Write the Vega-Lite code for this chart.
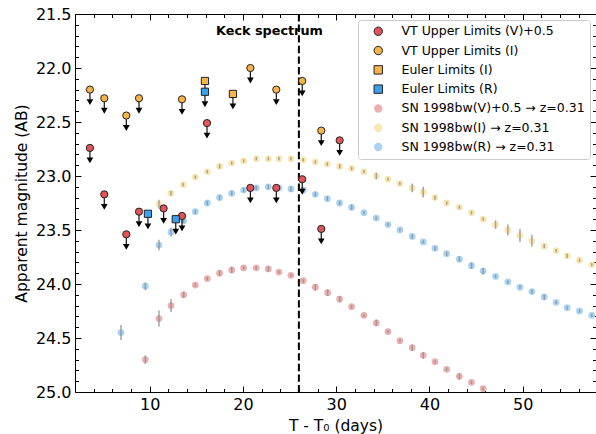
{
  "$schema": "https://vega.github.io/schema/vega-lite/v6.json",
  "width": 521,
  "height": 378,
  "autosize": {"type": "none"},
  "padding": {"left": 75, "top": 14, "right": 0, "bottom": 42},
  "background": "white",
  "config": {
    "view": {"stroke": null},
    "font": "DejaVu Sans",
    "axis": {
      "labelFont": "DejaVu Sans", "titleFont": "DejaVu Sans",
      "labelColor": "black", "titleColor": "black",
      "tickColor": "black", "domainColor": "black",
      "domainWidth": 1, "tickWidth": 1, "grid": false,
      "labelFontSize": 16, "titleFontSize": 15.5, "titleFontWeight": "normal",
      "labelFlush": false
    },
    "legend": {
      "orient": "top-right", "offset": 6, "padding": 5,
      "strokeColor": "#cccccc", "fillColor": "white", "cornerRadius": 3,
      "labelFont": "DejaVu Sans", "labelFontSize": 12.5, "labelColor": "black",
      "symbolSize": 70, "symbolStrokeWidth": 1, "rowPadding": 6.3,
      "symbolOffset": 9, "labelOffset": 17, "labelLimit": 400
    }
  },
  "datasets": {
    "limits": [
      {"series": "VT Upper Limits (V)+0.5", "t": 3.6, "mag": 22.74},
      {"series": "VT Upper Limits (V)+0.5", "t": 5.14, "mag": 23.17},
      {"series": "VT Upper Limits (V)+0.5", "t": 7.5, "mag": 23.54},
      {"series": "VT Upper Limits (V)+0.5", "t": 8.86, "mag": 23.33},
      {"series": "VT Upper Limits (V)+0.5", "t": 11.5, "mag": 23.3},
      {"series": "VT Upper Limits (V)+0.5", "t": 13.47, "mag": 23.37},
      {"series": "VT Upper Limits (V)+0.5", "t": 16.15, "mag": 22.51},
      {"series": "VT Upper Limits (V)+0.5", "t": 20.8, "mag": 23.11},
      {"series": "VT Upper Limits (V)+0.5", "t": 23.58, "mag": 23.11},
      {"series": "VT Upper Limits (V)+0.5", "t": 26.36, "mag": 23.03},
      {"series": "VT Upper Limits (V)+0.5", "t": 28.4, "mag": 23.49},
      {"series": "VT Upper Limits (V)+0.5", "t": 30.37, "mag": 22.67},
      {"series": "VT Upper Limits (I)", "t": 3.6, "mag": 22.2},
      {"series": "VT Upper Limits (I)", "t": 5.14, "mag": 22.28},
      {"series": "VT Upper Limits (I)", "t": 7.5, "mag": 22.44},
      {"series": "VT Upper Limits (I)", "t": 8.86, "mag": 22.28},
      {"series": "VT Upper Limits (I)", "t": 13.47, "mag": 22.29},
      {"series": "VT Upper Limits (I)", "t": 20.8, "mag": 22.0},
      {"series": "VT Upper Limits (I)", "t": 23.58, "mag": 22.2},
      {"series": "VT Upper Limits (I)", "t": 26.36, "mag": 22.12},
      {"series": "VT Upper Limits (I)", "t": 28.4, "mag": 22.58},
      {"series": "Euler Limits (I)", "t": 15.93, "mag": 22.12},
      {"series": "Euler Limits (I)", "t": 18.93, "mag": 22.24},
      {"series": "Euler Limits (R)", "t": 9.82, "mag": 23.35},
      {"series": "Euler Limits (R)", "t": 12.8, "mag": 23.4},
      {"series": "Euler Limits (R)", "t": 15.93, "mag": 22.22}
    ],
    "sn": [
      {"series": "SN 1998bw(R) → z=0.31", "t": 6.93, "mag": 24.45, "err": 0.07},
      {"series": "SN 1998bw(R) → z=0.31", "t": 9.54, "mag": 24.02, "err": 0.035},
      {"series": "SN 1998bw(R) → z=0.31", "t": 11.0, "mag": 23.64, "err": 0.05},
      {"series": "SN 1998bw(R) → z=0.31", "t": 12.29, "mag": 23.52, "err": 0.04},
      {"series": "SN 1998bw(R) → z=0.31", "t": 13.65, "mag": 23.415, "err": 0.02},
      {"series": "SN 1998bw(R) → z=0.31", "t": 14.9, "mag": 23.33, "err": 0.02},
      {"series": "SN 1998bw(R) → z=0.31", "t": 16.18, "mag": 23.25, "err": 0.02},
      {"series": "SN 1998bw(R) → z=0.31", "t": 17.5, "mag": 23.2, "err": 0.025},
      {"series": "SN 1998bw(R) → z=0.31", "t": 18.8, "mag": 23.16, "err": 0.02},
      {"series": "SN 1998bw(R) → z=0.31", "t": 20.08, "mag": 23.13, "err": 0.02},
      {"series": "SN 1998bw(R) → z=0.31", "t": 21.43, "mag": 23.11, "err": 0.02},
      {"series": "SN 1998bw(R) → z=0.31", "t": 22.72, "mag": 23.1, "err": 0.02},
      {"series": "SN 1998bw(R) → z=0.31", "t": 23.86, "mag": 23.11, "err": 0.02},
      {"series": "SN 1998bw(R) → z=0.31", "t": 25.15, "mag": 23.12, "err": 0.025},
      {"series": "SN 1998bw(R) → z=0.31", "t": 26.47, "mag": 23.13, "err": 0.02},
      {"series": "SN 1998bw(R) → z=0.31", "t": 27.76, "mag": 23.17, "err": 0.02},
      {"series": "SN 1998bw(R) → z=0.31", "t": 29.04, "mag": 23.21, "err": 0.02},
      {"series": "SN 1998bw(R) → z=0.31", "t": 30.37, "mag": 23.25, "err": 0.02},
      {"series": "SN 1998bw(R) → z=0.31", "t": 31.65, "mag": 23.29, "err": 0.025},
      {"series": "SN 1998bw(R) → z=0.31", "t": 32.97, "mag": 23.34, "err": 0.015},
      {"series": "SN 1998bw(R) → z=0.31", "t": 34.3, "mag": 23.39, "err": 0.015},
      {"series": "SN 1998bw(R) → z=0.31", "t": 35.55, "mag": 23.45, "err": 0.015},
      {"series": "SN 1998bw(R) → z=0.31", "t": 36.83, "mag": 23.5, "err": 0.015},
      {"series": "SN 1998bw(R) → z=0.31", "t": 38.15, "mag": 23.56, "err": 0.02},
      {"series": "SN 1998bw(R) → z=0.31", "t": 39.33, "mag": 23.61, "err": 0.015},
      {"series": "SN 1998bw(R) → z=0.31", "t": 40.59, "mag": 23.67, "err": 0.02},
      {"series": "SN 1998bw(R) → z=0.31", "t": 41.84, "mag": 23.72, "err": 0.02},
      {"series": "SN 1998bw(R) → z=0.31", "t": 43.2, "mag": 23.77, "err": 0.025},
      {"series": "SN 1998bw(R) → z=0.31", "t": 44.5, "mag": 23.83, "err": 0.03},
      {"series": "SN 1998bw(R) → z=0.31", "t": 45.75, "mag": 23.88, "err": 0.03},
      {"series": "SN 1998bw(R) → z=0.31", "t": 47.08, "mag": 23.93, "err": 0.015},
      {"series": "SN 1998bw(R) → z=0.31", "t": 48.4, "mag": 23.98, "err": 0.015},
      {"series": "SN 1998bw(R) → z=0.31", "t": 49.7, "mag": 24.03, "err": 0.015},
      {"series": "SN 1998bw(R) → z=0.31", "t": 50.98, "mag": 24.07, "err": 0.02},
      {"series": "SN 1998bw(R) → z=0.31", "t": 52.3, "mag": 24.12, "err": 0.025},
      {"series": "SN 1998bw(R) → z=0.31", "t": 53.58, "mag": 24.17, "err": 0.015},
      {"series": "SN 1998bw(R) → z=0.31", "t": 54.76, "mag": 24.22, "err": 0.015},
      {"series": "SN 1998bw(R) → z=0.31", "t": 56.08, "mag": 24.25, "err": 0.015},
      {"series": "SN 1998bw(R) → z=0.31", "t": 57.4, "mag": 24.29, "err": 0.015},
      {"series": "SN 1998bw(V)+0.5 → z=0.31", "t": 9.54, "mag": 24.7, "err": 0.04},
      {"series": "SN 1998bw(V)+0.5 → z=0.31", "t": 11.0, "mag": 24.32, "err": 0.075},
      {"series": "SN 1998bw(V)+0.5 → z=0.31", "t": 12.29, "mag": 24.2, "err": 0.06},
      {"series": "SN 1998bw(V)+0.5 → z=0.31", "t": 13.65, "mag": 24.1, "err": 0.03},
      {"series": "SN 1998bw(V)+0.5 → z=0.31", "t": 14.9, "mag": 24.01, "err": 0.015},
      {"series": "SN 1998bw(V)+0.5 → z=0.31", "t": 16.18, "mag": 23.95, "err": 0.015},
      {"series": "SN 1998bw(V)+0.5 → z=0.31", "t": 17.5, "mag": 23.9, "err": 0.025},
      {"series": "SN 1998bw(V)+0.5 → z=0.31", "t": 18.8, "mag": 23.87, "err": 0.03},
      {"series": "SN 1998bw(V)+0.5 → z=0.31", "t": 20.08, "mag": 23.85, "err": 0.015},
      {"series": "SN 1998bw(V)+0.5 → z=0.31", "t": 21.43, "mag": 23.85, "err": 0.015},
      {"series": "SN 1998bw(V)+0.5 → z=0.31", "t": 22.72, "mag": 23.86, "err": 0.025},
      {"series": "SN 1998bw(V)+0.5 → z=0.31", "t": 23.86, "mag": 23.89, "err": 0.015},
      {"series": "SN 1998bw(V)+0.5 → z=0.31", "t": 25.15, "mag": 23.92, "err": 0.015},
      {"series": "SN 1998bw(V)+0.5 → z=0.31", "t": 26.47, "mag": 23.97, "err": 0.015},
      {"series": "SN 1998bw(V)+0.5 → z=0.31", "t": 27.76, "mag": 24.03, "err": 0.03},
      {"series": "SN 1998bw(V)+0.5 → z=0.31", "t": 29.08, "mag": 24.08, "err": 0.03},
      {"series": "SN 1998bw(V)+0.5 → z=0.31", "t": 30.37, "mag": 24.14, "err": 0.03},
      {"series": "SN 1998bw(V)+0.5 → z=0.31", "t": 31.65, "mag": 24.21, "err": 0.015},
      {"series": "SN 1998bw(V)+0.5 → z=0.31", "t": 32.97, "mag": 24.29, "err": 0.015},
      {"series": "SN 1998bw(V)+0.5 → z=0.31", "t": 34.3, "mag": 24.36, "err": 0.03},
      {"series": "SN 1998bw(V)+0.5 → z=0.31", "t": 35.55, "mag": 24.44, "err": 0.015},
      {"series": "SN 1998bw(V)+0.5 → z=0.31", "t": 36.83, "mag": 24.525, "err": 0.015},
      {"series": "SN 1998bw(V)+0.5 → z=0.31", "t": 38.15, "mag": 24.59, "err": 0.03},
      {"series": "SN 1998bw(V)+0.5 → z=0.31", "t": 39.33, "mag": 24.66, "err": 0.03},
      {"series": "SN 1998bw(V)+0.5 → z=0.31", "t": 40.59, "mag": 24.72, "err": 0.015},
      {"series": "SN 1998bw(V)+0.5 → z=0.31", "t": 41.84, "mag": 24.79, "err": 0.015},
      {"series": "SN 1998bw(V)+0.5 → z=0.31", "t": 43.2, "mag": 24.855, "err": 0.03},
      {"series": "SN 1998bw(V)+0.5 → z=0.31", "t": 44.5, "mag": 24.91, "err": 0.015},
      {"series": "SN 1998bw(V)+0.5 → z=0.31", "t": 45.75, "mag": 24.97, "err": 0.015},
      {"series": "SN 1998bw(I) → z=0.31", "t": 11.0, "mag": 23.26, "err": 0.04},
      {"series": "SN 1998bw(I) → z=0.31", "t": 12.29, "mag": 23.16, "err": 0.02},
      {"series": "SN 1998bw(I) → z=0.31", "t": 13.6, "mag": 23.08, "err": 0.015},
      {"series": "SN 1998bw(I) → z=0.31", "t": 14.9, "mag": 23.01, "err": 0.015},
      {"series": "SN 1998bw(I) → z=0.31", "t": 16.18, "mag": 22.96, "err": 0.015},
      {"series": "SN 1998bw(I) → z=0.31", "t": 17.5, "mag": 22.91, "err": 0.02},
      {"series": "SN 1998bw(I) → z=0.31", "t": 18.8, "mag": 22.88, "err": 0.015},
      {"series": "SN 1998bw(I) → z=0.31", "t": 20.08, "mag": 22.86, "err": 0.015},
      {"series": "SN 1998bw(I) → z=0.31", "t": 21.43, "mag": 22.84, "err": 0.015},
      {"series": "SN 1998bw(I) → z=0.31", "t": 22.72, "mag": 22.84, "err": 0.015},
      {"series": "SN 1998bw(I) → z=0.31", "t": 23.86, "mag": 22.84, "err": 0.015},
      {"series": "SN 1998bw(I) → z=0.31", "t": 25.15, "mag": 22.84, "err": 0.015},
      {"series": "SN 1998bw(I) → z=0.31", "t": 26.47, "mag": 22.85, "err": 0.015},
      {"series": "SN 1998bw(I) → z=0.31", "t": 27.76, "mag": 22.87, "err": 0.015},
      {"series": "SN 1998bw(I) → z=0.31", "t": 29.04, "mag": 22.89, "err": 0.015},
      {"series": "SN 1998bw(I) → z=0.31", "t": 30.37, "mag": 22.91, "err": 0.02},
      {"series": "SN 1998bw(I) → z=0.31", "t": 31.65, "mag": 22.93, "err": 0.015},
      {"series": "SN 1998bw(I) → z=0.31", "t": 32.97, "mag": 22.96, "err": 0.015},
      {"series": "SN 1998bw(I) → z=0.31", "t": 34.3, "mag": 23.0, "err": 0.03},
      {"series": "SN 1998bw(I) → z=0.31", "t": 35.55, "mag": 23.03, "err": 0.015},
      {"series": "SN 1998bw(I) → z=0.31", "t": 36.83, "mag": 23.07, "err": 0.015},
      {"series": "SN 1998bw(I) → z=0.31", "t": 38.15, "mag": 23.11, "err": 0.04},
      {"series": "SN 1998bw(I) → z=0.31", "t": 39.33, "mag": 23.15, "err": 0.05},
      {"series": "SN 1998bw(I) → z=0.31", "t": 40.59, "mag": 23.2, "err": 0.02},
      {"series": "SN 1998bw(I) → z=0.31", "t": 41.84, "mag": 23.25, "err": 0.015},
      {"series": "SN 1998bw(I) → z=0.31", "t": 43.2, "mag": 23.29, "err": 0.015},
      {"series": "SN 1998bw(I) → z=0.31", "t": 44.5, "mag": 23.34, "err": 0.015},
      {"series": "SN 1998bw(I) → z=0.31", "t": 45.75, "mag": 23.4, "err": 0.015},
      {"series": "SN 1998bw(I) → z=0.31", "t": 47.08, "mag": 23.45, "err": 0.04},
      {"series": "SN 1998bw(I) → z=0.31", "t": 48.4, "mag": 23.5, "err": 0.05},
      {"series": "SN 1998bw(I) → z=0.31", "t": 49.7, "mag": 23.55, "err": 0.06},
      {"series": "SN 1998bw(I) → z=0.31", "t": 50.98, "mag": 23.6, "err": 0.055},
      {"series": "SN 1998bw(I) → z=0.31", "t": 52.3, "mag": 23.65, "err": 0.02},
      {"series": "SN 1998bw(I) → z=0.31", "t": 53.58, "mag": 23.69, "err": 0.015},
      {"series": "SN 1998bw(I) → z=0.31", "t": 54.76, "mag": 23.74, "err": 0.02},
      {"series": "SN 1998bw(I) → z=0.31", "t": 56.08, "mag": 23.78, "err": 0.015},
      {"series": "SN 1998bw(I) → z=0.31", "t": 57.4, "mag": 23.82, "err": 0.015}
    ],
    "spectrum": [
      {"t": 26, "mag": 21.69, "label": "Keck spectrum"}
    ]
  },
  "layer": [
    {
      "data": {"name": "sn"},
      "mark": {"type": "point", "filled": true, "size": 46, "strokeWidth": 0, "opacity": 1, "clip": true},
      "encoding": {
        "x": {"field": "t", "type": "quantitative", "scale": {"domain": [2, 57.85], "nice": false, "zero": false},
              "axis": {"orient": "bottom", "values": [10, 20, 30, 40, 50], "tickSize": -6, "labelPadding": 10, "title": "T - T₀ (days)", "titlePadding": 6}},
        "y": {"field": "mag", "type": "quantitative", "scale": {"domain": [21.5, 25], "reverse": true, "nice": false, "zero": false},
              "axis": {"orient": "left", "values": [21.5, 22, 22.5, 23, 23.5, 24, 24.5, 25], "format": ".1f", "tickSize": -6, "labelPadding": 10, "title": "Apparent magnitude (AB)", "titlePadding": 6}},
        "fill": {"field": "series", "type": "nominal", "title": null,
                 "scale": {"domain": ["VT Upper Limits (V)+0.5", "VT Upper Limits (I)", "Euler Limits (I)", "Euler Limits (R)", "SN 1998bw(V)+0.5 → z=0.31", "SN 1998bw(I) → z=0.31", "SN 1998bw(R) → z=0.31"],
                           "range": ["#e0545a", "#f7b44a", "#f7b44a", "#3aa0f0", "#ecb0b0", "#f9e6b0", "#a9d2f4"]}},
        "shape": {"field": "series", "type": "nominal", "title": null,
                  "scale": {"domain": ["VT Upper Limits (V)+0.5", "VT Upper Limits (I)", "Euler Limits (I)", "Euler Limits (R)", "SN 1998bw(V)+0.5 → z=0.31", "SN 1998bw(I) → z=0.31", "SN 1998bw(R) → z=0.31"],
                            "range": ["circle", "circle", "square", "square", "circle", "circle", "circle"]}},
        "stroke": {"field": "series", "type": "nominal", "title": null,
                   "scale": {"domain": ["VT Upper Limits (V)+0.5", "VT Upper Limits (I)", "Euler Limits (I)", "Euler Limits (R)", "SN 1998bw(V)+0.5 → z=0.31", "SN 1998bw(I) → z=0.31", "SN 1998bw(R) → z=0.31"],
                             "range": ["#222222", "#222222", "#222222", "#222222", "transparent", "transparent", "transparent"]}}
      }
    },
    {
      "data": {"name": "sn"},
      "mark": {"type": "errorbar", "color": "#8f8f8f", "thickness": 1.5, "opacity": 0.8, "clip": true},
      "encoding": {
        "x": {"field": "t", "type": "quantitative", "scale": {"domain": [2, 57.85], "nice": false, "zero": false}, "axis": null},
        "y": {"field": "mag", "type": "quantitative", "scale": {"domain": [21.5, 25], "reverse": true, "nice": false, "zero": false}, "axis": null},
        "yError": {"field": "err"}
      }
    },
    {
      "data": {"name": "spectrum"},
      "mark": {"type": "rule", "color": "black", "strokeWidth": 2, "strokeDash": [7.4, 3.2]},
      "encoding": {
        "x": {"field": "t", "type": "quantitative", "scale": {"domain": [2, 57.85], "nice": false, "zero": false}, "axis": null}
      }
    },
    {
      "data": {"name": "limits"},
      "mark": {"type": "rule", "color": "#111111", "strokeWidth": 1.2, "y2Offset": 10},
      "encoding": {
        "x": {"field": "t", "type": "quantitative", "scale": {"domain": [2, 57.85], "nice": false, "zero": false},
              "axis": {"orient": "bottom", "values": [4, 6, 8, 12, 14, 16, 18, 22, 24, 26, 28, 32, 34, 36, 38, 42, 44, 46, 48, 52, 54, 56], "tickSize": -3.5, "labels": false, "domain": false, "title": null}},
        "y": {"field": "mag", "type": "quantitative", "scale": {"domain": [21.5, 25], "reverse": true, "nice": false, "zero": false},
              "axis": {"orient": "left", "values": [21.6, 21.7, 21.8, 21.9, 22.1, 22.2, 22.3, 22.4, 22.6, 22.7, 22.8, 22.9, 23.1, 23.2, 23.3, 23.4, 23.6, 23.7, 23.8, 23.9, 24.1, 24.2, 24.3, 24.4, 24.6, 24.7, 24.8, 24.9], "tickSize": -3.5, "labels": false, "domain": false, "title": null}},
        "y2": {"field": "mag"}
      }
    },
    {
      "data": {"name": "limits"},
      "mark": {"type": "point", "shape": "triangle-down", "filled": true, "color": "black", "size": 45, "yOffset": 12.5, "opacity": 1},
      "encoding": {
        "x": {"field": "t", "type": "quantitative", "scale": {"domain": [2, 57.85], "nice": false, "zero": false},
              "axis": {"orient": "top", "values": [4, 6, 8, 12, 14, 16, 18, 22, 24, 26, 28, 32, 34, 36, 38, 42, 44, 46, 48, 52, 54, 56], "tickSize": -3.5, "labels": false, "domain": false, "title": null}},
        "y": {"field": "mag", "type": "quantitative", "scale": {"domain": [21.5, 25], "reverse": true, "nice": false, "zero": false},
              "axis": {"orient": "right", "values": [21.6, 21.7, 21.8, 21.9, 22.1, 22.2, 22.3, 22.4, 22.6, 22.7, 22.8, 22.9, 23.1, 23.2, 23.3, 23.4, 23.6, 23.7, 23.8, 23.9, 24.1, 24.2, 24.3, 24.4, 24.6, 24.7, 24.8, 24.9], "tickSize": -3.5, "labels": false, "domain": false, "title": null}}
      }
    },
    {
      "data": {"name": "limits"},
      "mark": {"type": "point", "filled": true, "size": 52, "strokeWidth": 1, "opacity": 1},
      "encoding": {
        "x": {"field": "t", "type": "quantitative", "scale": {"domain": [2, 57.85], "nice": false, "zero": false},
              "axis": {"orient": "top", "values": [10, 20, 30, 40, 50], "tickSize": -6, "labels": false, "title": null}},
        "y": {"field": "mag", "type": "quantitative", "scale": {"domain": [21.5, 25], "reverse": true, "nice": false, "zero": false},
              "axis": {"orient": "right", "values": [21.5, 22, 22.5, 23, 23.5, 24, 24.5, 25], "tickSize": -6, "labels": false, "title": null}},
        "fill": {"field": "series", "type": "nominal", "title": null},
        "shape": {"field": "series", "type": "nominal", "title": null},
        "stroke": {"field": "series", "type": "nominal", "title": null}
      }
    },
    {
      "data": {"name": "spectrum"},
      "mark": {"type": "text", "font": "DejaVu Sans", "fontWeight": "bold", "fontSize": 12.8, "align": "right", "baseline": "alphabetic", "dx": 24, "color": "black"},
      "encoding": {
        "x": {"field": "t", "type": "quantitative", "scale": {"domain": [2, 57.85], "nice": false, "zero": false}, "axis": null},
        "y": {"field": "mag", "type": "quantitative", "scale": {"domain": [21.5, 25], "reverse": true, "nice": false, "zero": false}, "axis": null},
        "text": {"field": "label"}
      }
    }
  ],
  "resolve": {"axis": {"x": "independent", "y": "independent"}}
}
